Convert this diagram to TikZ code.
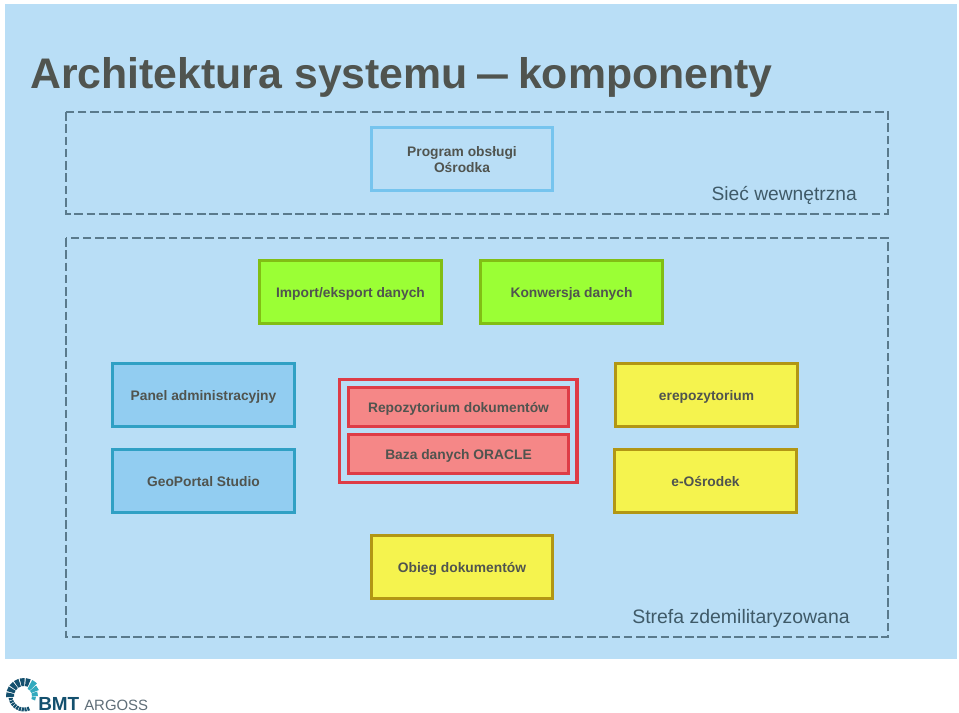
\documentclass[tikz,border=0pt]{standalone}
\usepackage{fontspec}
\setmainfont{Liberation Sans}
\definecolor{panelblue}{HTML}{B9DEF6}
\definecolor{inktext}{HTML}{50544F}
\definecolor{labeltext}{HTML}{3F5A68}
\definecolor{dashcol}{HTML}{5A7A8C}
\definecolor{logodark}{HTML}{14506E}
\definecolor{logoteal}{HTML}{32AABE}
\definecolor{logogrey}{HTML}{5F6E78}
\definecolor{redline}{HTML}{DE3C46}
\tikzset{
  x=0.75pt,y=-0.75pt,
  box/.style={draw,line width=2.4pt,minimum width=136.3pt,minimum height=47.1pt,inner sep=0pt,text=inktext,font=\fontsize{10.35pt}{12pt}\selectfont\bfseries,align=center,text depth=-1.2pt},
  skybox/.style={box,draw={rgb,255:red,118;green,196;blue,238},fill=panelblue,text depth=-2.6pt},
  greenbox/.style={box,draw={rgb,255:red,130;green,190;blue,20},fill={rgb,255:red,155;green,255;blue,53}},
  tealbox/.style={box,draw={rgb,255:red,48;green,160;blue,196},fill={rgb,255:red,146;green,205;blue,241}},
  yellowbox/.style={box,draw={rgb,255:red,178;green,150;blue,20},fill={rgb,255:red,245;green,243;blue,78}},
  redbox/.style={box,draw=redline,fill={rgb,255:red,245;green,135;blue,135},minimum width=164.9pt,minimum height=29.1pt},
  zone/.style={draw=dashcol,line width=0.9pt,dash pattern=on 6.5pt off 2.7pt},
  zonelabel/.style={text=labeltext,inner sep=0pt},
}
\begin{document}
\begin{tikzpicture}
\useasboundingbox (0,0) rectangle (959,713);
\fill[white] (0,0) rectangle (959,713);
\fill[panelblue] (5,4) rectangle (957,659);
\node[anchor=base west,inner sep=0pt,text=inktext,font=\fontsize{32.1pt}{36pt}\selectfont\bfseries] (title) at (30,89) {Architektura systemu\kern7pt\scalebox{0.72}[1]{—}\kern7.5pt komponenty};
\draw[zone] (66,112) rectangle (888,214);
\draw[zone] (66,238) rectangle (888,637);
\node[skybox] (prog) at (462,159) {Program obsługi\\Ośrodka};
\node[zonelabel,anchor=base east,font=\fontsize{14.4pt}{18pt}\selectfont] (siec) at (857,200) {Sieć wewnętrzna};
\node[greenbox] (imp) at (350.5,292) {Import/eksport danych};
\node[greenbox] (kon) at (571.5,292) {Konwersja danych};
\node[tealbox] (panel) at (203.5,395) {Panel administracyjny};
\node[tealbox] (geo) at (203.5,481) {GeoPortal Studio};
\draw[draw=redline,line width=2.6pt] (339.5,379.5) rectangle (577,482.5);
\node[redbox] (repo) at (458.5,407) {Repozytorium dokumentów};
\node[redbox] (baza) at (458.5,454) {Baza danych ORACLE};
\node[yellowbox] (erepo) at (706.5,395) {erepozytorium};
\node[yellowbox] (eos) at (705.5,481) {e-Ośrodek};
\node[yellowbox] (obieg) at (462,567) {Obieg dokumentów};
\node[zonelabel,anchor=base east,font=\fontsize{14.6pt}{18pt}\selectfont] (strefa) at (850,623) {Strefa zdemilitaryzowana};
% logo
\begin{scope}[shift={(24,696)},y=0.75pt]
\foreach \a in {68,88,108,128,148,168}{
  \fill[logodark] (\a:10) arc[start angle=\a,end angle=\a+16,radius=10] -- ({\a+16}:18) arc[start angle=\a+16,end angle=\a,radius=18] -- cycle;
}
\foreach \a in {-22,0,22,44}{
  \fill[logoteal] (\a:8) arc[start angle=\a,end angle=\a+19,radius=8] -- ({\a+19}:{14+\a/11}) arc[start angle=\a+19,end angle=\a,radius={14+\a/11}] -- cycle;
}
\foreach \a in {188,200,212,224,236,248,260,272,284}{
  \fill[logodark] (\a:11.5) arc[start angle=\a,end angle=\a+9,radius=11.5] -- ({\a+9}:15.5) arc[start angle=\a+9,end angle=\a,radius=15.5] -- cycle;
}
\end{scope}
\node[anchor=base west,inner sep=0pt,text=logodark,font=\fontsize{14.2pt}{16pt}\selectfont\bfseries] (bmt) at (38,710) {BMT};
\node[anchor=base west,inner sep=0pt,text=logogrey,font=\fontsize{11.2pt}{14pt}\selectfont] (arg) at (84,710) {ARGOSS};
\end{tikzpicture}
\end{document}
